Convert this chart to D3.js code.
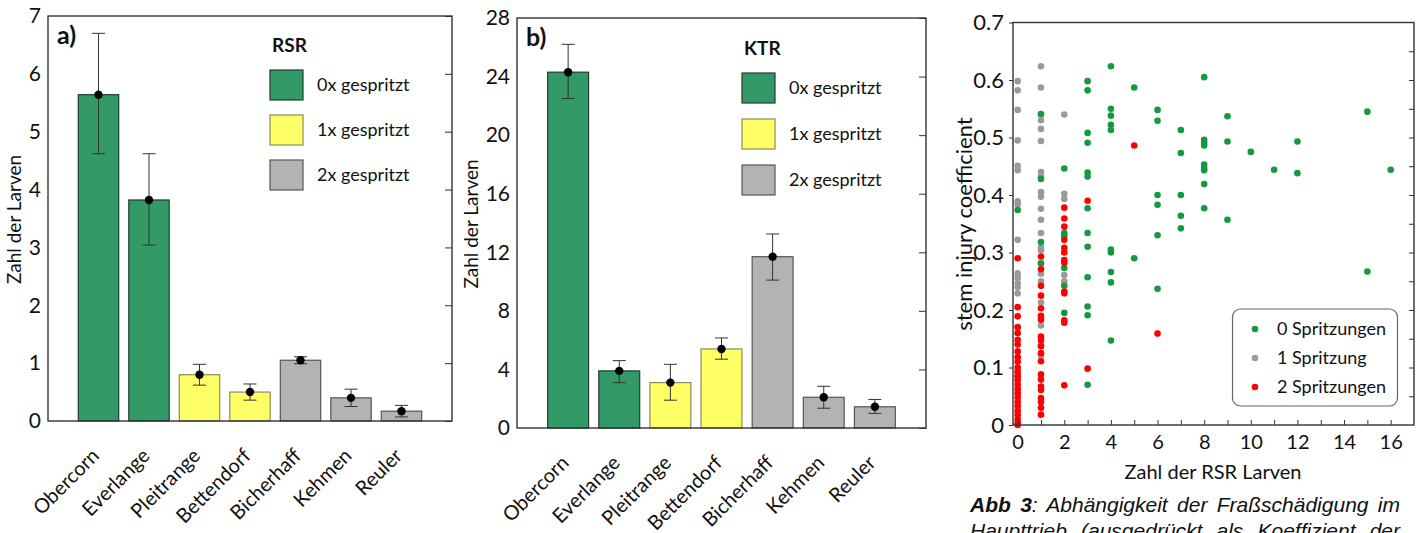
<html>
<head>
<meta charset="utf-8">
<script src="https://d3js.org/d3.v7.min.js"></script>
<style>
  body { margin: 0; background: #fff; }
  text { font-family: Lato, "Open Sans", sans-serif; fill: #111; }
</style>
</head>
<body>
<svg id="chart" width="1419" height="533"></svg>
<script>
// --- data ---
var sites = ["Obercorn", "Everlange", "Pleitrange", "Bettendorf", "Bicherhaff", "Kehmen", "Reuler"];
var sprayCount = [0, 0, 1, 1, 2, 2, 2];
var sprayLabels = ["0x gespritzt", "1x gespritzt", "2x gespritzt"];

var rsrMean = [5.64, 3.82, 0.80, 0.50, 1.05, 0.40, 0.17];
var rsrLow  = [4.62, 3.04, 0.62, 0.36, 0.99, 0.25, 0.07];
var rsrHigh = [6.70, 4.62, 0.98, 0.64, 1.11, 0.55, 0.27];

var ktrMean = [24.3, 3.9, 3.1, 5.4, 11.7, 2.1, 1.45];
var ktrLow  = [22.5, 3.1, 1.9, 4.7, 10.1, 1.35, 1.0];
var ktrHigh = [26.2, 4.6, 4.35, 6.15, 13.25, 2.85, 1.95];

// scatter: [RSR larvae, stem injury coefficient]
var spray0 = [[0,0.374],[1,0.541],[1,0.428],[1,0.318],[1,0.281],
  [2,0.446],[2,0.334],[2,0.329],[2,0.273],[2,0.242],[2,0.195],
  [3,0.598],[3,0.582],[3,0.508],[3,0.491],[3,0.439],[3,0.432],[3,0.377],[3,0.334],[3,0.31],[3,0.257],[3,0.206],[3,0.191],[3,0.07],
  [4,0.624],[4,0.55],[4,0.538],[4,0.522],[4,0.513],[4,0.305],[4,0.30],[4,0.266],[4,0.248],[4,0.147],
  [5,0.587],[5,0.29],
  [6,0.548],[6,0.529],[6,0.40],[6,0.383],[6,0.33],[6,0.237],
  [7,0.513],[7,0.473],[7,0.40],[7,0.364],[7,0.342],
  [8,0.605],[8,0.496],[8,0.491],[8,0.486],[8,0.453],[8,0.447],[8,0.443],[8,0.419],[8,0.377],
  [9,0.537],[9,0.493],[9,0.357],[10,0.475],[11,0.444],[12,0.493],[12,0.438],
  [15,0.545],[15,0.267],[16,0.444]];
var spray1 = [[0,0.598],[0,0.582],[0,0.548],[0,0.495],[0,0.451],[0,0.443],[0,0.389],[0,0.383],[0,0.322],
  [0,0.264],[0,0.256],[0,0.247],[0,0.240],[0,0.229],[0,0.171],[0,0.160],[0,0.093],[0,0.085],
  [1,0.624],[1,0.587],[1,0.540],[1,0.530],[1,0.515],[1,0.494],[1,0.440],[1,0.432],[1,0.405],[1,0.397],
  [1,0.376],[1,0.357],[1,0.334],[1,0.308],[1,0.304],[1,0.282],[1,0.263],[1,0.250],[1,0.213],[1,0.173],[1,0.140],[1,0.120],
  [2,0.540],[2,0.402],[2,0.393],[2,0.261],[2,0.250]];
var spray2 = [[0,0.290],[0,0.205],[0,0.189],[0,0.170],[0,0.160],[0,0.148],[0,0.140],[0,0.128],[0,0.118],[0,0.110],
  [0,0.100],[0,0.092],[0,0.085],[0,0.078],[0,0.070],[0,0.062],[0,0.055],[0,0.048],[0,0.040],[0,0.033],
  [0,0.025],[0,0.018],[0,0.010],[0,0.004],[0,0.0],
  [1,0.293],[1,0.271],[1,0.242],[1,0.225],[1,0.203],[1,0.190],[1,0.183],[1,0.154],[1,0.148],[1,0.137],
  [1,0.125],[1,0.111],[1,0.088],[1,0.079],[1,0.067],[1,0.061],[1,0.047],[1,0.040],[1,0.030],[1,0.018],
  [2,0.378],[2,0.359],[2,0.345],[2,0.322],[2,0.308],[2,0.300],[2,0.287],[2,0.282],[2,0.232],[2,0.229],
  [2,0.182],[2,0.178],[2,0.069],
  [3,0.390],[3,0.098],[5,0.486],[6,0.159]];
var scatterLabels = ["0 Spritzungen", "1 Spritzung", "2 Spritzungen"];

var barFill   = ["#339966", "#ffff66", "#b3b3b3"];
var barStroke = ["#1e3d2c", "#8a8a5a", "#555555"];
var dotColor  = ["#139a3f", "#9a9a9a", "#ff0000"];

var svg = d3.select("#chart");

function barPanel(cfg) {
  var g = svg.append("g");
  var x = d3.scaleLinear().domain([0, 8]).range([cfg.left, cfg.right]);
  var y = d3.scaleLinear().domain([0, cfg.max]).range([cfg.bottom, cfg.top]);
  var bw = (x(0.8) - x(0));

  g.selectAll("rect.bar").data(cfg.mean).enter().append("rect")
    .attr("class", "bar")
    .attr("x", function(d, i) { return x(i + 1) - bw / 2; })
    .attr("y", function(d) { return y(d); })
    .attr("width", bw)
    .attr("height", function(d) { return y(0) - y(d); })
    .attr("fill", function(d, i) { return barFill[sprayCount[i]]; })
    .attr("stroke", function(d, i) { return barStroke[sprayCount[i]]; })
    .attr("stroke-width", 1.2);

  // error bars
  var eb = g.selectAll("g.err").data(cfg.mean).enter().append("g");
  eb.append("line")
    .attr("x1", function(d, i) { return x(i + 1); })
    .attr("x2", function(d, i) { return x(i + 1); })
    .attr("y1", function(d, i) { return y(cfg.low[i]); })
    .attr("y2", function(d, i) { return y(cfg.high[i]); });
  [cfg.low, cfg.high].forEach(function(arr) {
    eb.append("line")
      .attr("x1", function(d, i) { return x(i + 1) - 6.5; })
      .attr("x2", function(d, i) { return x(i + 1) + 6.5; })
      .attr("y1", function(d, i) { return y(arr[i]); })
      .attr("y2", function(d, i) { return y(arr[i]); });
  });
  eb.selectAll("line").attr("stroke", "#333").attr("stroke-width", 1);
  g.selectAll("circle.mean").data(cfg.mean).enter().append("circle")
    .attr("cx", function(d, i) { return x(i + 1); })
    .attr("cy", function(d) { return y(d); })
    .attr("r", 4.2)
    .attr("fill", "#000");

  // frame
  g.append("rect")
    .attr("x", cfg.left).attr("y", cfg.top)
    .attr("width", cfg.right - cfg.left).attr("height", cfg.bottom - cfg.top)
    .attr("fill", "none").attr("stroke", "#333").attr("stroke-width", 1.4);

  // left axis labels
  var yAxis = d3.axisLeft(y).tickValues(cfg.ticks).tickSize(0).tickPadding(7).tickFormat(d3.format("d"));
  var ya = g.append("g").attr("transform", "translate(" + cfg.left + ",0)").call(yAxis);
  ya.select(".domain").remove();
  ya.selectAll("text").style("font-size", "21px").style("font-family", "Lato").attr("fill", "#111");

  // right inward ticks
  var minor = d3.range(0, cfg.max + 1e-9, cfg.minorStep);
  var ra = g.append("g").attr("transform", "translate(" + cfg.right + ",0)")
    .call(d3.axisLeft(y).tickValues(minor).tickSize(4).tickFormat(""));
  ra.call(d3.axisLeft(y).tickValues(cfg.ticks).tickSize(7).tickFormat(""));
  ra.selectAll(".domain").remove();
  ra.selectAll("line").attr("stroke", "#333");

  // y title
  g.append("text")
    .attr("transform", "translate(" + cfg.titleX + "," + ((cfg.top + cfg.bottom) / 2 + 1) + ") rotate(-90)")
    .attr("text-anchor", "middle")
    .style("font-size", "19px")
    .text("Zahl der Larven");

  // category labels
  g.selectAll("text.cat").data(sites).enter().append("text")
    .attr("class", "cat")
    .attr("text-anchor", "end")
    .attr("transform", function(d, i) {
      return "translate(" + (x(i + 1) + 2) + "," + (cfg.bottom + 36) + ") rotate(-45)";
    })
    .style("font-size", "20px")
    .text(function(d) { return d; });

  // panel letter
  g.append("text").attr("x", cfg.left + 9).attr("y", cfg.top + 28)
    .style("font-size", "25px").style("font-weight", "bold").text(cfg.letter);

  // legend
  g.append("text").attr("x", cfg.legX + 2).attr("y", cfg.legY - 18)
    .style("font-size", "19px").style("font-weight", "bold").text(cfg.title);
  sprayLabels.forEach(function(lab, k) {
    var yy = cfg.legY + k * cfg.legStep;
    g.append("rect").attr("x", cfg.legX).attr("y", yy).attr("width", 33).attr("height", 30)
      .attr("fill", barFill[k]).attr("stroke", barStroke[k]).attr("stroke-width", 1.2);
    g.append("text").attr("x", cfg.legX + 47).attr("y", yy + 21)
      .style("font-size", "18px").text(lab);
  });
}

barPanel({ left: 48, right: 452, top: 16, bottom: 421, max: 7,
  ticks: d3.range(0, 8), minorStep: 0.2, mean: rsrMean, low: rsrLow, high: rsrHigh,
  titleX: 21, letter: "a)", title: "RSR", legX: 270, legY: 70, legStep: 45 });
barPanel({ left: 517, right: 926, top: 18, bottom: 428, max: 28,
  ticks: d3.range(0, 29, 4), minorStep: 0.8, mean: ktrMean, low: ktrLow, high: ktrHigh,
  titleX: 478, letter: "b)", title: "KTR", legX: 742, legY: 73, legStep: 46 });

// --- scatter panel c ---
var sc = svg.append("g");
var sx = d3.scaleLinear().domain([-0.2, 17]).range([1013, 1414]);
var sy = d3.scaleLinear().domain([0, 0.7]).range([425, 22.5]);

[[spray1, 1], [spray0, 0], [spray2, 2]].forEach(function(s) {
  sc.append("g").selectAll("circle").data(s[0]).enter().append("circle")
    .attr("cx", function(d) { return sx(d[0]); })
    .attr("cy", function(d) { return sy(d[1]); })
    .attr("r", 3.3)
    .attr("fill", dotColor[s[1]]);
});

sc.append("rect").attr("x", 1013).attr("y", 22.5).attr("width", 401).attr("height", 402.5)
  .attr("fill", "none").attr("stroke", "#333").attr("stroke-width", 1.4);

var yl = sc.append("g").attr("transform", "translate(1013,0)")
  .call(d3.axisLeft(sy).tickValues(d3.range(0, 0.71, 0.1)).tickSize(4).tickPadding(5)
    .tickFormat(function(d) { return d === 0 ? "0" : d3.format(".1f")(d); }));
yl.select(".domain").remove();
yl.selectAll("text").style("font-size", "22px").style("font-family", "Lato").attr("fill", "#111");
yl.selectAll("line").attr("stroke", "#333");
var yr = sc.append("g").attr("transform", "translate(1414,0)")
  .call(d3.axisLeft(sy).tickValues(d3.range(0.05, 0.7, 0.05)).tickSize(5).tickFormat(""));
yr.select(".domain").remove();
yr.selectAll("line").attr("stroke", "#333");
var xb = sc.append("g").attr("transform", "translate(0,425)")
  .call(d3.axisTop(sx).tickValues(d3.range(0, 17, 1)).tickSize(5).tickFormat(""));
xb.select(".domain").remove();
xb.selectAll("line").attr("stroke", "#333");
var xl = sc.append("g").attr("transform", "translate(0,425)")
  .call(d3.axisBottom(sx).tickValues(d3.range(0, 17, 2)).tickSize(0).tickPadding(10));
xl.select(".domain").remove();
xl.selectAll("text").style("font-size", "20px").style("font-family", "Lato").attr("fill", "#111");

sc.append("text").attr("x", 1213).attr("y", 479).attr("text-anchor", "middle")
  .style("font-size", "20px").text("Zahl der RSR Larven");
sc.append("text").attr("transform", "translate(972,224) rotate(-90)").attr("text-anchor", "middle")
  .style("font-size", "22px").text("stem injury coefficient");

sc.append("rect").attr("x", 1232.5).attr("y", 309).attr("width", 165).attr("height", 97)
  .attr("rx", 8).attr("fill", "#fff").attr("stroke", "#666").attr("stroke-width", 1.2);
scatterLabels.forEach(function(lab, k) {
  var yy = 329 + k * 29;
  sc.append("circle").attr("cx", 1255).attr("cy", yy).attr("r", 3.3).attr("fill", dotColor[k]);
  sc.append("text").attr("x", 1277).attr("y", yy + 6).style("font-size", "18px").text(lab);
});

// caption, justified
function justified(parts, y, x0, x1) {
  var t = svg.append("text").attr("x", x0).attr("y", y)
    .style("font-family", "'Liberation Sans', Arial, sans-serif").style("font-size", "21px")
    .style("font-style", "italic");
  parts.forEach(function(p) {
    t.append("tspan").style("font-weight", p[1] ? "bold" : "normal").text(p[0]);
  });
  var len = t.node().getComputedTextLength();
  var spaces = parts.map(function(p) { return p[0]; }).join("").split(" ").length - 1;
  t.style("word-spacing", Math.max(0, (x1 - x0 - len) / spaces) + "px");
}
justified([["Abb 3", true], [": Abhängigkeit der Fraßschädigung im", false]], 512, 970, 1400);
justified([["Haupttrieb (ausgedrückt als Koeffizient der", false]], 538, 970, 1400);
</script>
</body>
</html>
